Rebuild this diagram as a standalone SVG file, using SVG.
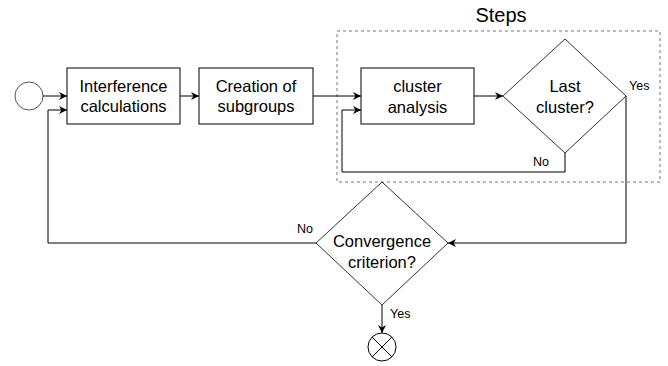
<svg xmlns="http://www.w3.org/2000/svg" width="668" height="366" viewBox="0 0 668 366">
  <style>
    .shape { fill: #ffffff; stroke: #000000; stroke-width: 1; }
    .diamond { fill: #ffffff; stroke: #333333; stroke-width: 1; }
    .edge { fill: none; stroke: #000000; stroke-width: 1; }
    .label { font-family: "Liberation Sans", Arial, sans-serif; font-size: 16.5px; fill: #000000; text-anchor: middle; }
    .small { font-family: "Liberation Sans", Arial, sans-serif; font-size: 12.5px; fill: #000000; }
    .title { font-family: "Liberation Sans", Arial, sans-serif; font-size: 20px; fill: #000000; text-anchor: middle; }
  </style>
  <defs>
    <marker id="arrow" viewBox="0 0 10 10" refX="10" refY="5" markerWidth="8" markerHeight="8" markerUnits="userSpaceOnUse" orient="auto">
      <path d="M0,0 L10,5 L0,10 L3,5 Z" fill="#000000"/>
    </marker>
  </defs>

  <rect width="668" height="366" fill="#ffffff"/>

  <!-- loop container -->
  <g id="steps">
    <rect x="337" y="31" width="323" height="151" fill="none" stroke="#777777" stroke-width="1" stroke-dasharray="3,3"/>
    <text class="title" x="501" y="22">Steps</text>
  </g>

  <g id="start">
    <circle cx="29" cy="96" r="14" fill="#ffffff" stroke="#555555" stroke-width="1"/>
  </g>

  <g id="interference">
    <rect class="shape" x="67" y="68" width="113" height="56"/>
    <text class="label" x="123.5" y="92">Interference</text>
    <text class="label" x="123.5" y="112">calculations</text>
  </g>

  <g id="subgroups">
    <rect class="shape" x="199" y="68" width="114" height="56"/>
    <text class="label" x="256" y="92">Creation of</text>
    <text class="label" x="256" y="112">subgroups</text>
  </g>

  <g id="cluster">
    <rect class="shape" x="361" y="68" width="113" height="56"/>
    <text class="label" x="417.5" y="92">cluster</text>
    <text class="label" x="417.5" y="113">analysis</text>
  </g>

  <g id="last-cluster">
    <polygon class="diamond" points="565,39 626,96 565,153 503,96"/>
    <text class="label" x="565" y="92">Last</text>
    <text class="label" x="565" y="113">cluster?</text>
  </g>

  <g id="convergence">
    <polygon class="diamond" points="382,182 448,243 382,305 316,243"/>
    <text class="label" x="382" y="247">Convergence</text>
    <text class="label" x="382" y="268">criterion?</text>
  </g>

  <g id="end">
    <circle cx="382" cy="347" r="14" fill="#ffffff" stroke="#000000" stroke-width="1"/>
    <path d="M372.1,337.1 L391.9,356.9 M391.9,337.1 L372.1,356.9" stroke="#000000" stroke-width="1"/>
  </g>

  <g id="connectors">
    <path class="edge" d="M43,96 L67,96" marker-end="url(#arrow)"/>
    <path class="edge" d="M180,96 L199,96" marker-end="url(#arrow)"/>
    <path class="edge" d="M313,96 L361,96" marker-end="url(#arrow)"/>
    <path class="edge" d="M474,96 L503,96" marker-end="url(#arrow)"/>
    <path class="edge" d="M565,153 L565,172 L342,172 L342,110 L361,110" marker-end="url(#arrow)"/>
    <path class="edge" d="M626,96 L626,243 L448,243" marker-end="url(#arrow)"/>
    <path class="edge" d="M316,243 L48,243 L48,110 L67,110" marker-end="url(#arrow)"/>
    <path class="edge" d="M382,305 L382,333" marker-end="url(#arrow)"/>
    <text class="small" x="629" y="90">Yes</text>
    <text class="small" x="533" y="166">No</text>
    <text class="small" x="297" y="233">No</text>
    <text class="small" x="390" y="318">Yes</text>
  </g>
</svg>
